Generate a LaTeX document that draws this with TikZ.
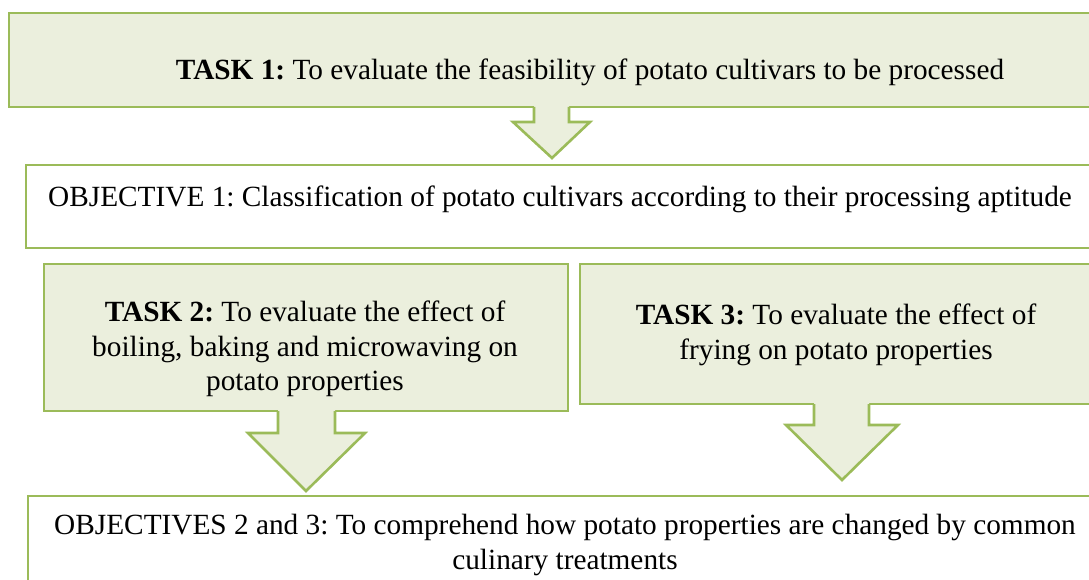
\documentclass[tikz,border=0pt]{standalone}
\usepackage{fontspec}
\setmainfont{Liberation Serif}
\frenchspacing
\definecolor{gfill}{HTML}{EBEFDD}
\definecolor{gline}{HTML}{9BBB59}
\begin{document}
\begin{tikzpicture}[x=1pt,y=-1pt,
  box/.style={draw=gline, line width=2.6pt, anchor=north west, inner sep=0pt, outer sep=0pt},
  txt/.style={font=\fontsize{29.3}{34.5}\selectfont, align=center, inner sep=0pt},
  arrfill/.style={fill=gfill},
  arrline/.style={draw=gline, line width=2.6pt, line join=miter}]
\useasboundingbox (0,0) rectangle (1089,580);
\clip (0,0) rectangle (1089,580);
% boxes
\node[box, fill=gfill, minimum width=1100pt, minimum height=94pt] (t1) at (9,13) {};
\node[box, fill=white, minimum width=1100pt, minimum height=83pt] (o1) at (26,165) {};
\node[box, fill=gfill, minimum width=524pt, minimum height=147pt] (t2) at (44,264) {};
\node[box, fill=gfill, minimum width=520pt, minimum height=140pt] (t3) at (580,264) {};
\node[box, fill=white, minimum width=1100pt, minimum height=120pt] (o23) at (28,496) {};
% texts
\node[txt] (t1txt) at (590,72) {\textbf{TASK 1:} To evaluate the feasibility of potato cultivars to be processed};
\node[txt] (o1txt) at (560,199) {OBJECTIVE 1: Classification of potato cultivars according to their processing aptitude};
\node[txt] (t2txt) at (305,349) {\textbf{TASK 2:} To evaluate the effect of\\boiling, baking and microwaving on\\potato properties};
\node[txt] (t3txt) at (836,335) {\textbf{TASK 3:} To evaluate the effect of\\frying on potato properties};
\node[txt] (o23txt) at (565,545) {OBJECTIVES 2 and 3: To comprehend how potato properties are changed by common\\culinary treatments};
% block arrows
\fill[arrfill] (534,105.5) -- (534,122) -- (513,122) -- (552,158) -- (590,122) -- (569,122) -- (569,105.5) -- cycle;
\draw[arrline] (534,107) -- (534,122) -- (513,122) -- (552,158) -- (590,122) -- (569,122) -- (569,107);
\fill[arrfill] (278,409.5) -- (278,433) -- (248,433) -- (306,491) -- (365,433) -- (335,433) -- (335,409.5) -- cycle;
\draw[arrline] (278,411) -- (278,433) -- (248,433) -- (306,491) -- (365,433) -- (335,433) -- (335,411);
\fill[arrfill] (814,402.5) -- (814,425) -- (786,425) -- (842,480) -- (898,425) -- (869,425) -- (869,402.5) -- cycle;
\draw[arrline] (814,404) -- (814,425) -- (786,425) -- (842,480) -- (898,425) -- (869,425) -- (869,404);
\end{tikzpicture}
\end{document}
